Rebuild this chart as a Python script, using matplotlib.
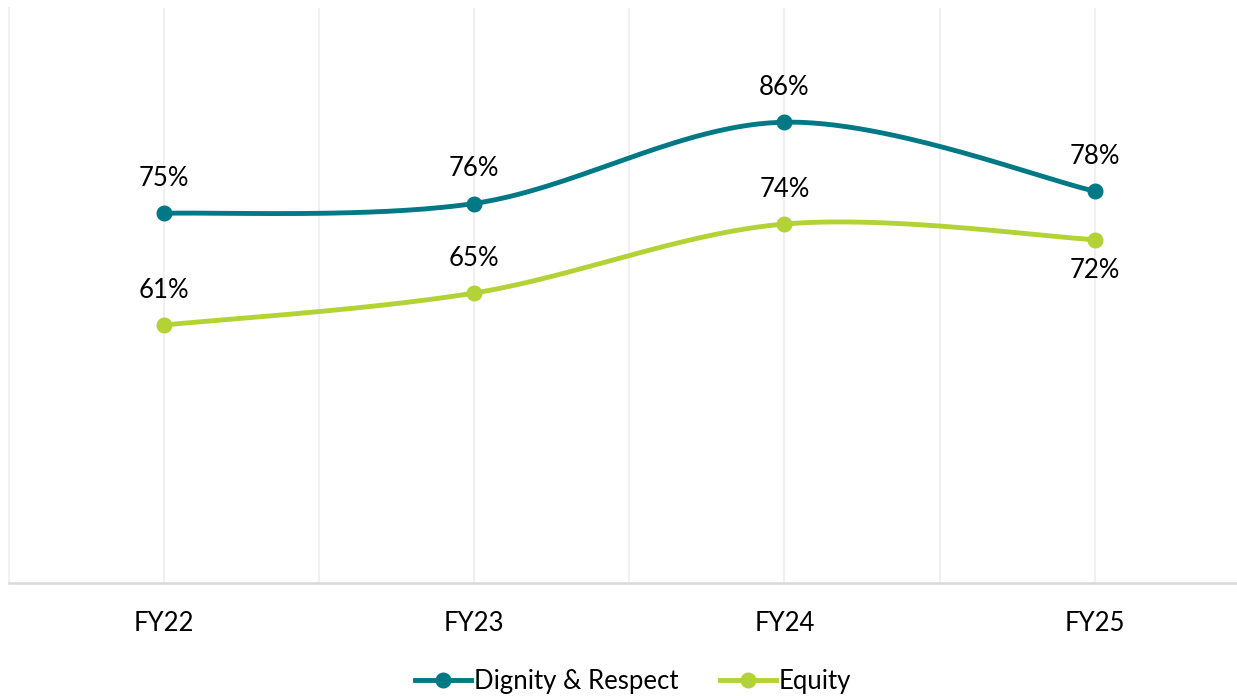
import numpy as np
import matplotlib
matplotlib.use("Agg")
import matplotlib.pyplot as plt
from matplotlib.lines import Line2D

categories = ["FY22", "FY23", "FY24", "FY25"]
dignity = [75.0, 76.2, 86.1, 77.7]
equity = [61.4, 65.3, 73.7, 71.8]
series_names = ["Dignity & Respect", "Equity"]
colors = ["#007886", "#B3D236"]

plt.rcParams['font.family'] = ['Lato', 'DejaVu Sans']

W, H = 1237, 696
fig = plt.figure(figsize=(W / 100, H / 100), dpi=100)
ax = fig.add_axes([8.5 / W, (H - 583) / H, (1250 - 8.5) / W, (583 - 8) / H])
ax.set_xlim(-0.5, 3.5)
ax.set_ylim(30, 100)


def smooth(xs, ys, n=60):
    pts = np.column_stack([xs, ys]).astype(float)
    P = np.vstack([pts[0], pts, pts[-1]])
    out = []
    for i in range(1, len(P) - 2):
        p0, p1, p2, p3 = P[i - 1], P[i], P[i + 1], P[i + 2]
        c1 = p1 + (p2 - p0) / 6.0
        c2 = p2 - (p3 - p1) / 6.0
        t = np.linspace(0, 1, n)[:, None]
        seg = ((1 - t) ** 3) * p1 + 3 * ((1 - t) ** 2) * t * c1 + 3 * (1 - t) * t ** 2 * c2 + t ** 3 * p2
        out.append(seg if i == 1 else seg[1:])
    out = np.vstack(out)
    return out[:, 0], out[:, 1]


x = np.arange(len(categories))
data = [dignity, equity]
for vals, c in zip(data, colors):
    sx, sy = smooth(x, vals)
    ax.plot(sx, sy, color=c, lw=3.5, solid_capstyle='round', zorder=3)
    ax.plot(x, vals, 'o', color=c, ms=10.5, zorder=4)

label_pos = [["above"] * 4, ["above", "above", "above", "below"]]
for vals, pos in zip(data, label_pos):
    for xi, v, p in zip(x, vals, pos):
        off = 25 if p == "above" else -22
        ax.annotate(f"{round(v):.0f}%", (xi, v), xytext=(0, off), textcoords='offset points',
                    ha='center', va='center', fontsize=18.5, color='#000000', zorder=5)

# gridlines
ax.set_xticks(x)
ax.set_xticks(np.arange(-0.5, 3.6, 0.5), minor=True)
ax.set_xticklabels(categories, fontsize=18.5)
ax.tick_params(axis='x', which='both', length=0, pad=20)
ax.grid(True, axis='x', which='both', color='#F0F0F0', lw=1.5, zorder=0)
ax.set_yticks([])
for s in ['top', 'right']:
    ax.spines[s].set_visible(False)
ax.spines['left'].set_color('#F0F0F0')
ax.spines['left'].set_linewidth(1.5)
ax.spines['bottom'].set_color('#D9D9D9')
ax.spines['bottom'].set_linewidth(1.8)

handles = [Line2D([0], [0], color=c, lw=3.5, marker='o', ms=10.5) for c in colors]
fig.legend(handles, series_names, loc='center', bbox_to_anchor=(633 / W, 1 - 681 / H),
           ncol=2, frameon=False, fontsize=18.5, handlelength=2.2, handletextpad=0.1,
           columnspacing=1.6)

fig.savefig("out.png", dpi=100)
